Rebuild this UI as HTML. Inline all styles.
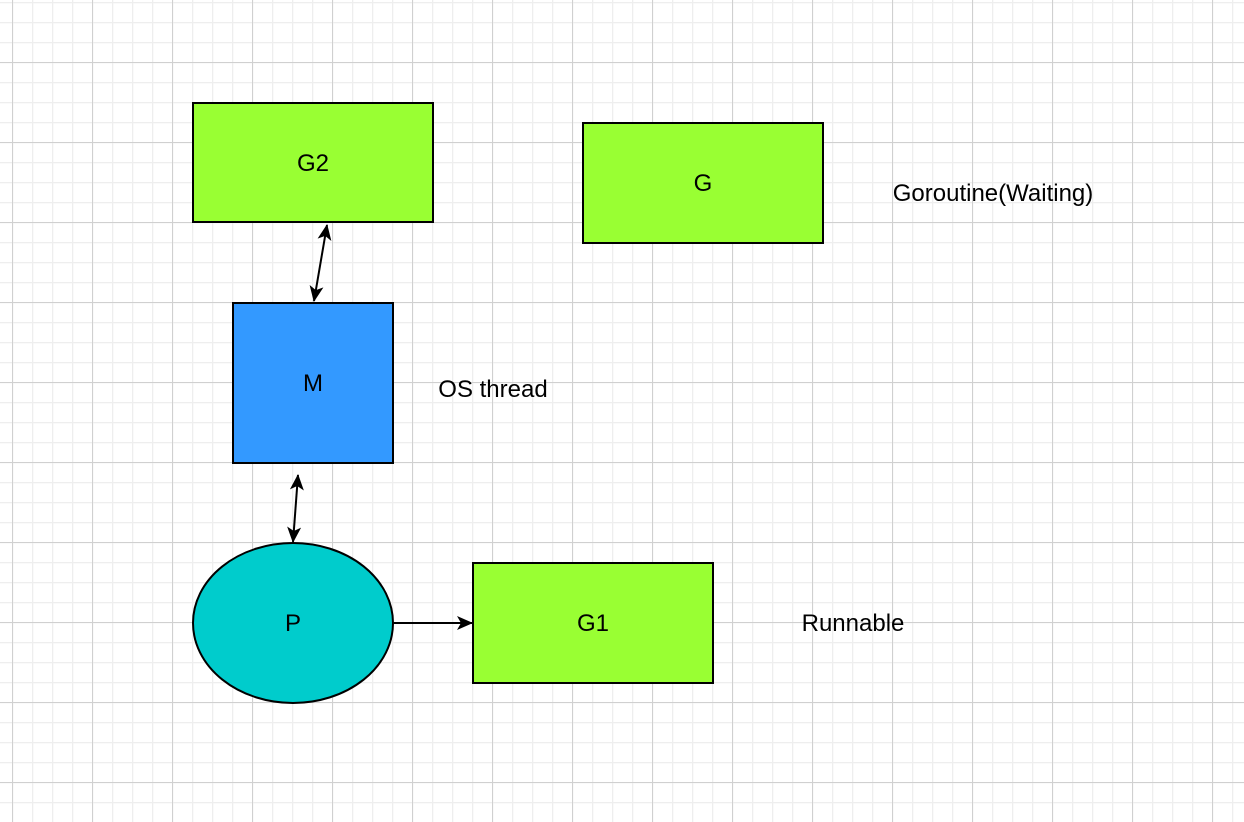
<!DOCTYPE html>
<html><head><style>
html,body{margin:0;padding:0;background:#fff;}
</style></head><body>
<svg width="1244" height="822" xmlns="http://www.w3.org/2000/svg" style="display:block">
<defs>
<pattern id="minor" x="12" y="2" width="20" height="20" patternUnits="userSpaceOnUse">
<path d="M0.5 0V20M0 0.5H20" stroke="#eeeeee" stroke-width="1.5" fill="none"/>
</pattern>
<pattern id="major" x="12" y="62" width="80" height="80" patternUnits="userSpaceOnUse">
<path d="M0.5 0V80M0 0.5H80" stroke="#d0d0d0" stroke-width="1" fill="none"/>
</pattern>
<marker id="ah" markerWidth="18" markerHeight="18" refX="15" refY="9" orient="auto-start-reverse" markerUnits="userSpaceOnUse">
<path d="M0 2 L16 9 L0 16 L4 9 Z" fill="#000"/>
</marker>
</defs>
<rect width="1244" height="822" fill="url(#minor)"/>
<rect width="1244" height="822" fill="url(#major)"/>
<g font-family="Liberation Sans, sans-serif" font-size="24" text-anchor="middle">
<rect x="193" y="103" width="240" height="119" fill="#99ff33" stroke="#000" stroke-width="2"/>
<text x="313" y="171">G2</text>
<rect x="583" y="123" width="240" height="120" fill="#99ff33" stroke="#000" stroke-width="2"/>
<text x="703" y="191">G</text>
<rect x="233" y="303" width="160" height="160" fill="#3399ff" stroke="#000" stroke-width="2"/>
<text x="313" y="391">M</text>
<ellipse cx="293" cy="623" rx="100" ry="80" fill="#00cccc" stroke="#000" stroke-width="2"/>
<text x="293" y="631">P</text>
<rect x="473" y="563" width="240" height="120" fill="#99ff33" stroke="#000" stroke-width="2"/>
<text x="593" y="631">G1</text>
<text x="993" y="201">Goroutine(Waiting)</text>
<text x="493" y="397">OS thread</text>
<text x="853" y="631">Runnable</text>
</g>
<g stroke="#000" stroke-width="2" fill="none">
<line x1="314" y1="301" x2="327" y2="225" marker-end="url(#ah)" marker-start="url(#ah)"/>
<line x1="293" y1="542" x2="298" y2="475" marker-end="url(#ah)" marker-start="url(#ah)"/>
<line x1="394" y1="623" x2="472" y2="623" marker-end="url(#ah)"/>
</g>
</svg>
</body></html>
